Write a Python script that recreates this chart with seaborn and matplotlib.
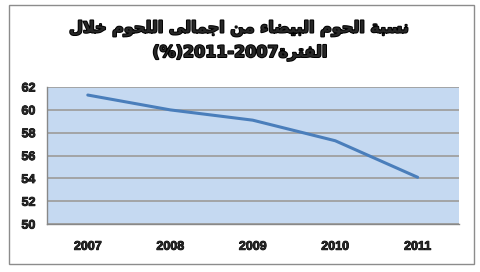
import matplotlib
matplotlib.use("Agg")
import matplotlib.pyplot as plt
import matplotlib.patheffects as pe
import seaborn as sns
import pandas as pd
from matplotlib.patches import Rectangle

years = ["2007", "2008", "2009", "2010", "2011"]
share = [61.3, 60.0, 59.1, 57.3, 54.1]
title_line1 = "نسبة الحوم البيضاء من اجمالى اللحوم خلال"
title_line2_ar = "الفترة"
title_line2_num = "(%)2011-2007"

# --- minimal Arabic shaping (presentation forms) ---
FORMS = {
    'ا': (0xFE8D, 0xFE8E, None, None), 'ب': (0xFE8F, 0xFE90, 0xFE91, 0xFE92),
    'ت': (0xFE95, 0xFE96, 0xFE97, 0xFE98), 'ة': (0xFE93, 0xFE94, None, None),
    'ج': (0xFE9D, 0xFE9E, 0xFE9F, 0xFEA0), 'ح': (0xFEA1, 0xFEA2, 0xFEA3, 0xFEA4),
    'خ': (0xFEA5, 0xFEA6, 0xFEA7, 0xFEA8), 'ر': (0xFEAD, 0xFEAE, None, None),
    'س': (0xFEB1, 0xFEB2, 0xFEB3, 0xFEB4), 'ض': (0xFEBD, 0xFEBE, 0xFEBF, 0xFEC0),
    'ف': (0xFED1, 0xFED2, 0xFED3, 0xFED4), 'ل': (0xFEDD, 0xFEDE, 0xFEDF, 0xFEE0),
    'م': (0xFEE1, 0xFEE2, 0xFEE3, 0xFEE4), 'ن': (0xFEE5, 0xFEE6, 0xFEE7, 0xFEE8),
    'و': (0xFEED, 0xFEEE, None, None), 'ى': (0xFEEF, 0xFEF0, None, None),
    'ي': (0xFEF1, 0xFEF2, 0xFEF3, 0xFEF4), 'ء': (0xFE80, None, None, None),
}

def joins_left(c):
    return c in FORMS and FORMS[c][2] is not None

def shape_word(w):
    chars = list(w)
    out = []
    i = 0
    while i < len(chars):
        c = chars[i]
        prev_j = i > 0 and joins_left(chars[i - 1])
        if c == 'ل' and i + 1 < len(chars) and chars[i + 1] == 'ا':
            out.append(chr(0xFEFC if prev_j else 0xFEFB))
            i += 2
            continue
        if c not in FORMS:
            out.append(c); i += 1; continue
        iso, fin, ini, med = FORMS[c]
        next_j = i + 1 < len(chars) and chars[i + 1] in FORMS and ini is not None
        if prev_j and next_j:
            f = med
        elif prev_j:
            f = fin
        elif next_j:
            f = ini
        else:
            f = iso
        out.append(chr(f if f else iso))
        i += 1
    return "".join(out)

def visual(text):
    words = text.split(" ")
    return " ".join(shape_word(w)[::-1] for w in words[::-1])

df = pd.DataFrame({"year": years, "share": share})

fig = plt.figure(figsize=(4.8, 2.72), dpi=100)
sns.set_style("white")
plt.rcParams['font.family'] = ['DejaVu Sans']

ax = fig.add_axes([0.097, 0.176, 0.859, 0.504])
ax.set_facecolor("#C5D9F1")
sns.lineplot(data=df, x="year", y="share", ax=ax, color="#4A7EBB", linewidth=2.2, sort=False)

ax.set_xlim(-0.5, 4.5)
ax.set_ylim(50, 62)
ax.set_yticks(range(50, 63, 2))
ax.set_xlabel("")
ax.set_ylabel("")
ax.grid(axis="y", color="#A0A0A0", linewidth=1.3)
ax.set_axisbelow(True)
for s in ["top", "right"]:
    ax.spines[s].set_visible(False)
for s in ["left", "bottom"]:
    ax.spines[s].set_color("#888888")
    ax.spines[s].set_linewidth(1.0)
ax.set_xticks([x - 0.5 for x in range(6)], minor=True)
ax.tick_params(axis="x", which="major", length=0, pad=12)
ax.tick_params(axis="x", which="minor", length=4, color="#888888", direction="out")
ax.tick_params(axis="y", length=4, color="#888888", direction="out", pad=4)
bold_fx = [pe.withStroke(linewidth=0.6, foreground="black")]
for lab in ax.get_xticklabels() + ax.get_yticklabels():
    lab.set_fontfamily("Liberation Sans")
    lab.set_fontweight("bold")
    lab.set_fontsize(9)
    lab.set_path_effects(bold_fx)

title_fx = [pe.withStroke(linewidth=1.4, foreground="black")]
fig.text(0.5, 0.895, visual(title_line1), ha="center", va="center",
         fontsize=11.5, fontweight="bold", family=["DejaVu Sans"], path_effects=title_fx)
fig.text(0.5, 0.805, title_line2_num + visual(title_line2_ar), ha="center", va="center",
         fontsize=11.5, fontweight="bold", family=["DejaVu Sans"], path_effects=title_fx)

fig.patches.append(Rectangle((9 / 480, 1 - 264 / 272), 465 / 480, 259 / 272,
                             transform=fig.transFigure, fill=False,
                             edgecolor="#8C8C8C", linewidth=1.0))

fig.savefig("out.png", dpi=100)
